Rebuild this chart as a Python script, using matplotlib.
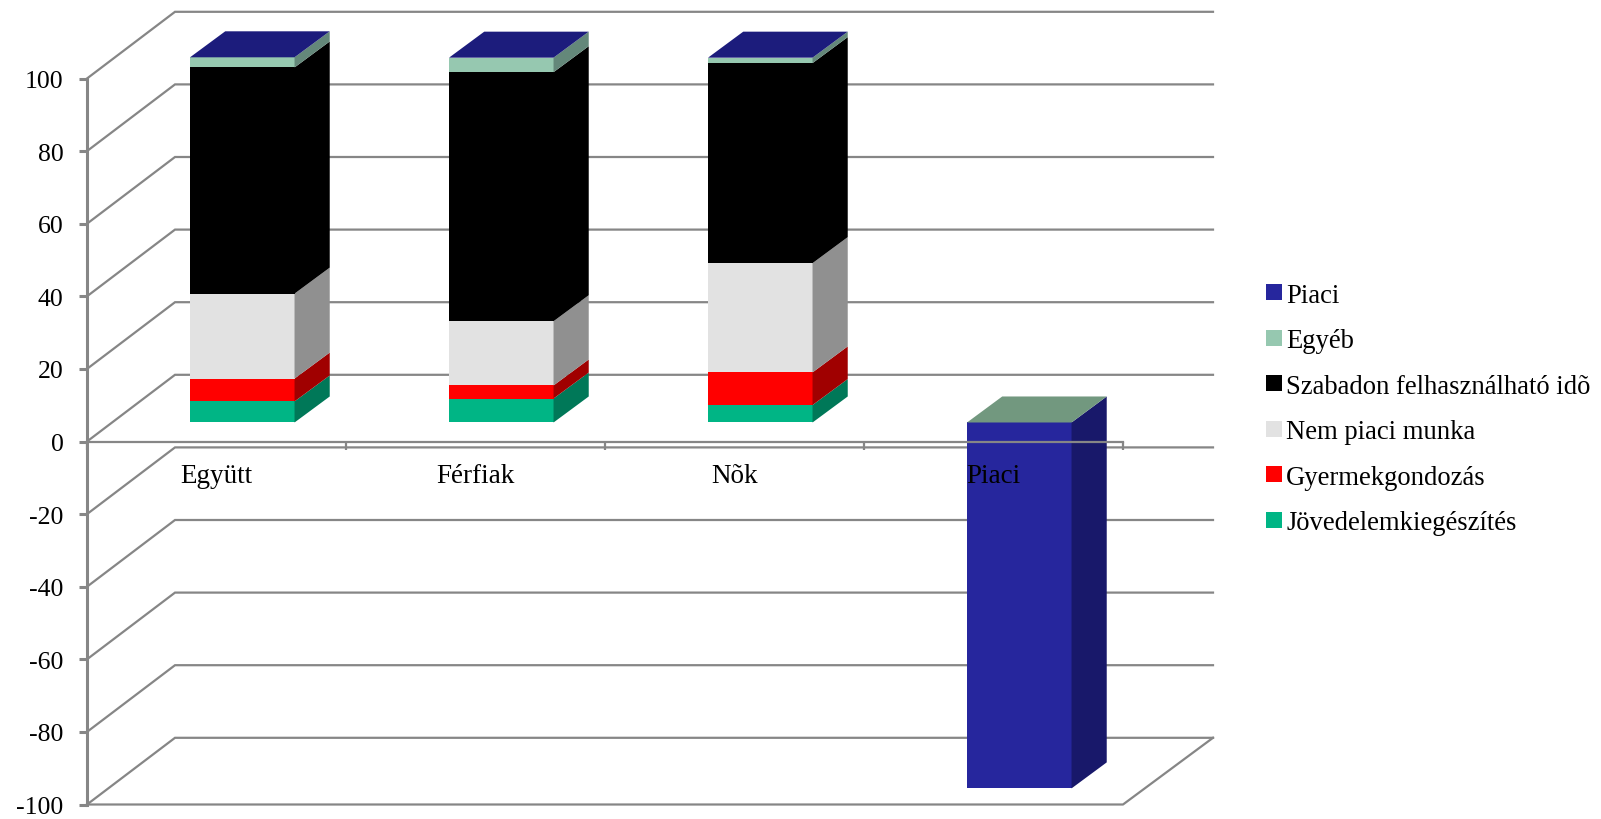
import matplotlib
matplotlib.use("Agg")
import matplotlib.pyplot as plt
from matplotlib.patches import Polygon, Patch

plt.rcParams['font.family'] = ['Liberation Serif', 'DejaVu Serif']

categories = ["Együtt", "Férfiak", "Nõk", "Piaci"]
series_names = ["Jövedelemkiegészítés", "Gyermekgondozás", "Nem piaci munka",
                "Szabadon felhasználható idõ", "Egyéb", "Piaci"]
jovedelem = [5.8, 6.6, 4.8, 0]
gyermek = [6.3, 3.6, 9.0, 0]
nem_piaci = [23.4, 17.7, 30.1, 0]
szabadon = [62.3, 68.6, 55.1, 0]
egyeb = [2.8, 4.0, 1.5, 0]
piaci = [0, 0, 0, -100.8]
stack = [jovedelem, gyermek, nem_piaci, szabadon, egyeb]

front_cols = ["#00B585", "#FF0000", "#E2E2E2", "#000000", "#96C8B0"]
side_cols = ["#007858", "#A00000", "#909090", "#000000", "#64887A"]
piaci_front, piaci_side = "#26269D", "#18186A"
top_navy, top_teal = "#1C1C7C", "#72987F"
grid_col = "#868686"

W, H, DPI = 1601, 820, 100
fig = plt.figure(figsize=(W / DPI, H / DPI), dpi=DPI, facecolor="white")
L, R, T, B = 87, 1213, 12, 805.5
ax = fig.add_axes([L / W, (H - B) / H, (R - L) / W, (B - T) / H])
PX_X, PX_Y = 259.0, 3.63
ax.set_xlim(0, (R - L) / PX_X)
ax.set_ylim(-100, (B - T) / PX_Y - 100)
ax.patch.set_visible(False)
ax.set_axisbelow(False)

DX, DY = 88 / PX_X, 66.7 / PX_Y   # full wall depth in data units
FX0, FX1 = 0.293, 0.693           # bar depth start/end, horizontal
FY0, FY1 = 0.285, 0.675           # bar depth start/end, vertical
BW = 104.5 / PX_X


def proj(x, v, near):
    return (x + (FX0 if near else FX1) * DX, v + (FY0 if near else FY1) * DY)


yticks = list(range(-100, 101, 20))
lw_grid = 1.6
xright = ax.get_xlim()[1]
for v in yticks:
    ax.plot([0, DX, xright], [v, v + DY, v + DY], color=grid_col, lw=lw_grid, zorder=1,
            clip_on=False, solid_joinstyle="miter")
ax.plot([0, 4, xright], [-100, -100, -100 + DY],
        color=grid_col, lw=lw_grid, zorder=1, clip_on=False)


def box(x0, v0, v1, fc, sc, tc=None, z=2):
    fx, fy = proj(x0, v0, True)
    ax.bar(fx, v1 - v0, BW, bottom=fy, align="edge", color=fc, lw=0, zorder=z)
    xr = x0 + BW
    side = [proj(xr, v0, True), proj(xr, v0, False), proj(xr, v1, False), proj(xr, v1, True)]
    ax.add_patch(Polygon(side, closed=True, fc=sc, lw=0, zorder=z))
    if tc:
        top = [proj(x0, v1, True), proj(xr, v1, True), proj(xr, v1, False), proj(x0, v1, False)]
        ax.add_patch(Polygon(top, closed=True, fc=tc, lw=0, zorder=z))


for i in range(3):
    bottom = 0
    x0 = i + 0.5 - BW / 2
    for s, vals in enumerate(stack):
        top_face = top_navy if s == len(stack) - 1 else None
        box(x0, bottom, bottom + vals[i], front_cols[s], side_cols[s], top_face)
        bottom += vals[i]

x0 = 3 + 0.5 - BW / 2
box(x0, piaci[3], 0, piaci_front, piaci_side, top_teal)

for s in ("top", "right"):
    ax.spines[s].set_visible(False)
ax.spines["left"].set_bounds(-100, 100)
ax.spines["left"].set_color(grid_col)
ax.spines["left"].set_linewidth(2.2)
ax.spines["left"].set_zorder(5)
ax.spines["bottom"].set_position(("data", 0))
ax.spines["bottom"].set_bounds(0, 4)
ax.spines["bottom"].set_color(grid_col)
ax.spines["bottom"].set_linewidth(1.6)
ax.spines["bottom"].set_zorder(5)

ax.set_yticks(yticks)
ax.set_yticklabels([str(v) for v in yticks])
ax.tick_params(axis="y", length=6, width=2.2, color=grid_col, labelsize=18.5, pad=11)
ax.set_xticks(range(5))
ax.set_xticklabels([])
ax.set_xticks([i + 0.5 for i in range(4)], minor=True)
ax.set_xticklabels(categories, minor=True)
ax.tick_params(axis="x", which="major", length=6, width=1.6, color=grid_col, direction="out")
ax.tick_params(axis="x", which="minor", length=0, labelsize=19.5, pad=15.7)

handle_cols = [piaci_front] + front_cols[::-1]
handles = [Patch(fc=c, lw=0, label=n) for c, n in zip(handle_cols, series_names[::-1])]
fig.legend(handles=handles, loc="center left", bbox_to_anchor=(1266 / W, 1 - 410 / H),
           frameon=False, fontsize=19.2, handlelength=0.6, handleheight=0.53,
           handletextpad=0.15, labelspacing=0.77, borderpad=0, borderaxespad=0)

fig.savefig("out.png", dpi=DPI, facecolor="white")
